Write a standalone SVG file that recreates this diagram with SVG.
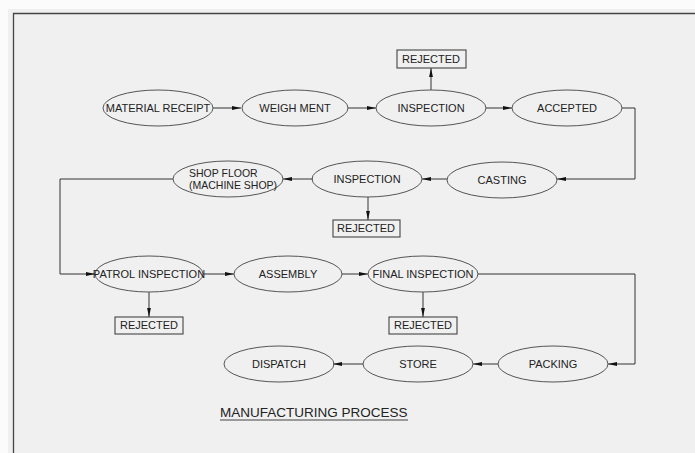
<svg xmlns="http://www.w3.org/2000/svg" width="695" height="453" viewBox="0 0 695 453">
<defs>
<style>
.n{fill:none;stroke:#555;stroke-width:1}
.b{fill:none;stroke:#444;stroke-width:1.1}
.t{font-family:"Liberation Sans",Arial,sans-serif;font-size:11px;fill:#222;text-anchor:middle}
.c{fill:none;stroke:#333;stroke-width:1}
</style>
<marker id="a" viewBox="0 0 9 5" refX="9" refY="2.5" markerWidth="9" markerHeight="5" markerUnits="userSpaceOnUse" orient="auto">
<path d="M0,0.6 L9,2.5 L0,4.4 z" fill="#111"/>
</marker>
</defs>
<rect x="0" y="0" width="695" height="453" fill="#fbfbfb"/>
<rect x="8" y="9" width="687" height="444" fill="#f0f0f0"/>
<path d="M13.5,453 V13.5 H695" fill="none" stroke="#444" stroke-width="1.3"/>

<g id="connectors">
<path class="c" d="M213,108 H241" marker-end="url(#a)"/>
<path class="c" d="M348,108 H376" marker-end="url(#a)"/>
<path class="c" d="M486,108 H512" marker-end="url(#a)"/>
<path class="c" d="M431,90 V68" marker-end="url(#a)"/>
<path class="c" d="M622,108 H635 V179 H557" marker-end="url(#a)"/>
<path class="c" d="M447,179 H422" marker-end="url(#a)"/>
<path class="c" d="M313,179 H283" marker-end="url(#a)"/>
<path class="c" d="M368,197 V220" marker-end="url(#a)"/>
<path class="c" d="M173,179 H60 V274 H95" marker-end="url(#a)"/>
<path class="c" d="M149,292 V317" marker-end="url(#a)"/>
<path class="c" d="M203,274 H234" marker-end="url(#a)"/>
<path class="c" d="M342,274 H368" marker-end="url(#a)"/>
<path class="c" d="M423,292 V317" marker-end="url(#a)"/>
<path class="c" d="M478,274 H635 V364 H608" marker-end="url(#a)"/>
<path class="c" d="M498,364 H473" marker-end="url(#a)"/>
<path class="c" d="M363,364 H333" marker-end="url(#a)"/>
</g>

<g id="material-receipt"><ellipse class="n" cx="158" cy="108" rx="55" ry="18"/><text class="t" x="158" y="112">MATERIAL RECEIPT</text></g>
<g id="weigh-ment"><ellipse class="n" cx="295" cy="108" rx="53" ry="18"/><text class="t" x="295" y="112">WEIGH MENT</text></g>
<g id="inspection-1"><ellipse class="n" cx="431" cy="108" rx="55" ry="18"/><text class="t" x="431" y="112">INSPECTION</text></g>
<g id="accepted"><ellipse class="n" cx="567" cy="108" rx="55" ry="18"/><text class="t" x="567" y="112">ACCEPTED</text></g>
<g id="rejected-1"><rect class="b" x="397" y="50" width="69" height="18"/><text class="t" x="431" y="63">REJECTED</text></g>

<g id="casting"><ellipse class="n" cx="502" cy="180" rx="55" ry="18"/><text class="t" x="502" y="184">CASTING</text></g>
<g id="inspection-2"><ellipse class="n" cx="367" cy="179" rx="55" ry="18"/><text class="t" x="367" y="183">INSPECTION</text></g>
<g id="shop-floor"><ellipse class="n" cx="228" cy="179" rx="55" ry="18"/><text class="t" x="189" y="177" style="text-anchor:start;font-size:10.5px">SHOP FLOOR</text><text class="t" x="189" y="189" style="text-anchor:start;font-size:10.5px">(MACHINE SHOP)</text></g>
<g id="rejected-2"><rect class="b" x="333" y="220" width="67" height="17"/><text class="t" x="366" y="232">REJECTED</text></g>

<g id="patrol-inspection"><ellipse class="n" cx="149" cy="274" rx="54" ry="18"/><text class="t" x="149" y="278">PATROL INSPECTION</text></g>
<g id="assembly"><ellipse class="n" cx="288" cy="274" rx="54" ry="18"/><text class="t" x="288" y="278">ASSEMBLY</text></g>
<g id="final-inspection"><ellipse class="n" cx="423" cy="274" rx="55" ry="18"/><text class="t" x="423" y="278">FINAL INSPECTION</text></g>
<g id="rejected-3"><rect class="b" x="115" y="317" width="68" height="17"/><text class="t" x="149" y="329">REJECTED</text></g>
<g id="rejected-4"><rect class="b" x="389" y="317" width="68" height="17"/><text class="t" x="423" y="329">REJECTED</text></g>

<g id="packing"><ellipse class="n" cx="553" cy="364" rx="55" ry="18"/><text class="t" x="553" y="368">PACKING</text></g>
<g id="store"><ellipse class="n" cx="418" cy="364" rx="55" ry="18"/><text class="t" x="418" y="368">STORE</text></g>
<g id="dispatch"><ellipse class="n" cx="279" cy="364" rx="55" ry="18"/><text class="t" x="279" y="368">DISPATCH</text></g>

<g id="title"><text x="220" y="417" font-family="Liberation Sans, Arial, sans-serif" font-size="13.5" fill="#222">MANUFACTURING PROCESS</text><line x1="220" y1="420" x2="408" y2="420" stroke="#444" stroke-width="1"/></g>
</svg>
